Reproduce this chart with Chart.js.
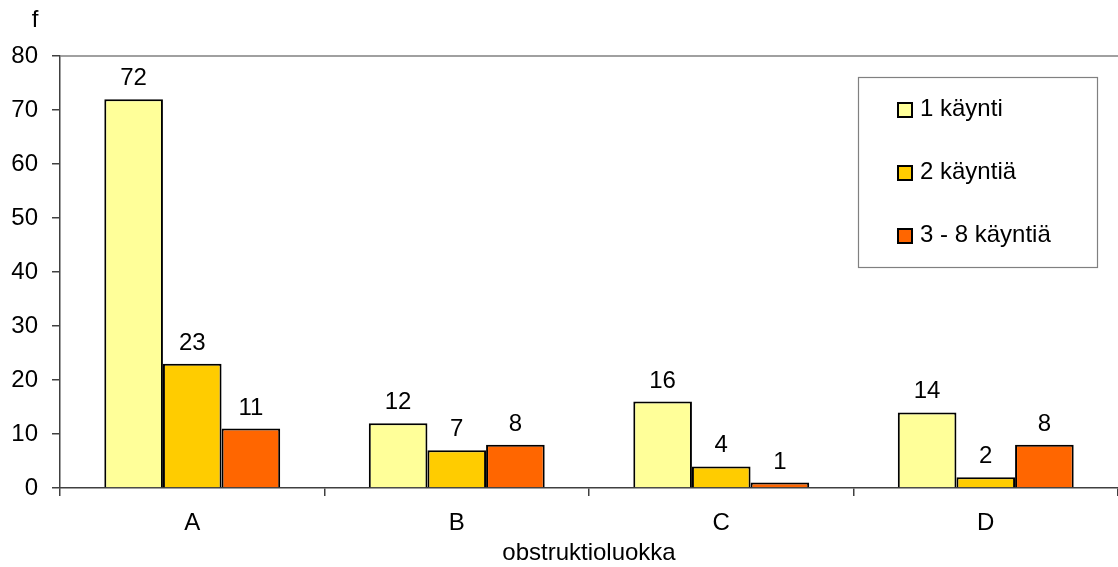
<!DOCTYPE html>
<html>
<head>
<meta charset="utf-8">
<script src="https://cdn.jsdelivr.net/npm/chart.js@4"></script>
<style>
  html, body { margin: 0; padding: 0; background: #fff; }
  #wrap { width: 1118px; height: 567px; }
</style>
</head>
<body>
<div id="wrap"><canvas id="chart" width="1118" height="567"></canvas></div>
<script>
const categories = ['A', 'B', 'C', 'D'];
const seriesNames = ['1 käynti', '2 käyntiä', '3 - 8 käyntiä'];
const oneVisit = [72, 12, 16, 14];
const twoVisits = [23, 7, 4, 2];
const threeToEight = [11, 8, 1, 8];
const yTicks = [0, 10, 20, 30, 40, 50, 60, 70, 80];

const FONT = 'Liberation Sans, Arial, sans-serif';
const FSIZE = 24;

// labels above bars, legend box, axis titles and the top border line
const extras = {
  id: 'extras',
  afterDatasetsDraw(chart) {
    const ctx = chart.ctx;
    const area = chart.chartArea;
    ctx.save();
    ctx.font = FSIZE + 'px ' + FONT;
    ctx.fillStyle = '#000';
    ctx.textAlign = 'center';
    ctx.textBaseline = 'alphabetic';
    chart.data.datasets.forEach((ds, i) => {
      chart.getDatasetMeta(i).data.forEach((bar, j) => {
        ctx.fillText(String(ds.data[j]), bar.x, bar.y - 14);
      });
    });

    // top frame line
    ctx.strokeStyle = '#808080';
    ctx.lineWidth = 1.5;
    ctx.beginPath();
    ctx.moveTo(area.left, area.top);
    ctx.lineTo(chart.width, area.top);
    ctx.stroke();

    // axis titles
    ctx.textBaseline = 'middle';
    ctx.fillText('f', 35, 20);
    ctx.fillText('obstruktioluokka', (area.left + chart.width) / 2, 553);

    // legend
    const lx = 858, ly = 77, lw = 239, lh = 190;
    ctx.fillStyle = '#fff';
    ctx.fillRect(lx, ly, lw, lh);
    ctx.strokeStyle = '#808080';
    ctx.lineWidth = 1.2;
    ctx.strokeRect(lx + 0.5, ly + 0.5, lw, lh);
    const rows = [108, 171, 234];
    chart.data.datasets.forEach((ds, i) => {
      ctx.fillStyle = ds.backgroundColor;
      ctx.fillRect(898, rows[i] - 5, 14, 14);
      ctx.strokeStyle = '#000';
      ctx.lineWidth = 2;
      ctx.strokeRect(898, rows[i] - 5, 14, 14);
      ctx.fillStyle = '#000';
      ctx.textAlign = 'left';
      ctx.fillText(ds.label, 920, rows[i] + 1);
    });
    ctx.restore();
  }
};

new Chart(document.getElementById('chart'), {
  type: 'bar',
  data: {
    labels: categories,
    datasets: [
      { label: seriesNames[0], data: oneVisit, backgroundColor: '#FFFF99' },
      { label: seriesNames[1], data: twoVisits, backgroundColor: '#FFCC00' },
      { label: seriesNames[2], data: threeToEight, backgroundColor: '#FF6600' }
    ].map(d => Object.assign(d, {
      borderColor: '#000',
      borderWidth: 2,
      borderSkipped: 'bottom',
      categoryPercentage: 0.665,
      barPercentage: 1
    }))
  },
  options: {
    responsive: false,
    animation: false,
    layout: { padding: { top: 56, right: 0, left: 0, bottom: 0 } },
    plugins: { legend: { display: false }, tooltip: { enabled: false } },
    scales: {
      x: {
        grid: { offset: true, drawOnChartArea: false, tickLength: 8, color: '#404040', lineWidth: 1.5 },
        border: { color: '#404040', width: 1.5 },
        ticks: { color: '#000', font: { family: FONT, size: FSIZE }, padding: 13 },
        afterFit: s => { s.height = 79; }
      },
      y: {
        min: 0,
        max: 80,
        afterBuildTicks: s => { s.ticks = yTicks.map(v => ({ value: v })); },
        grid: { drawOnChartArea: false, tickLength: 8, color: '#404040', lineWidth: 1.5 },
        border: { color: '#404040', width: 1.5 },
        ticks: { color: '#000', font: { family: FONT, size: FSIZE }, padding: 14 },
        afterFit: s => { s.width = 60; }
      }
    }
  },
  plugins: [extras]
});
</script>
</body>
</html>
